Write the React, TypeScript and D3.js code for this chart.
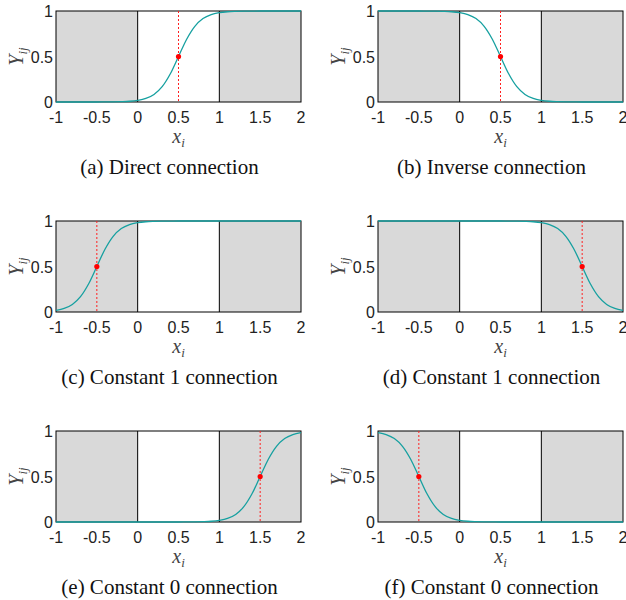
import React from "react";
import * as d3 from "d3";

// panel setup
const captions = [
  "(a) Direct connection",
  "(b) Inverse connection",
  "(c) Constant 1 connection",
  "(d) Constant 1 connection",
  "(e) Constant 0 connection",
  "(f) Constant 0 connection",
];
const centers = [0.5, 0.5, -0.5, 1.5, 1.5, -0.5];
const rising = [true, false, true, false, true, false];

// half of the S-shaped curve: distance from the midpoint -> value
const offsets = [0, 0.1, 0.2, 0.3, 0.4, 0.5, 0.6, 0.7, 0.8, 0.9, 1.0, 1.5, 2.5];
const riseValues = [0.5, 0.69, 0.832, 0.917, 0.961, 0.982, 0.992, 0.996, 0.998, 0.999, 1.0, 1.0, 1.0];

const xTicks = [-1, -0.5, 0, 0.5, 1, 1.5, 2];
const yTicks = [0, 0.5, 1];
const shaded = [
  [-1, 0],
  [1, 2],
];
const dividers = [0, 1];

const colLeft = [56, 378];
const rowTop = [11, 221, 431];
const plotW = 245;
const plotH = 91;

const TEAL = "#16a0a0";
const GRAY = "#d9d9d9";
const SANS = "Liberation Sans, Arial, sans-serif";
const SERIF = "Liberation Serif, Times New Roman, serif";

function Panel({ idx }: { idx: number }) {
  const left = colLeft[idx % 2];
  const top = rowTop[Math.floor(idx / 2)];
  const x = d3.scaleLinear().domain([-1, 2]).range([left, left + plotW]);
  const y = d3.scaleLinear().domain([0, 1]).range([top + plotH, top]);

  const c = centers[idx];
  const pts: [number, number][] = [];
  for (let i = offsets.length - 1; i > 0; i--) pts.push([c - offsets[i], 1 - riseValues[i]]);
  for (let i = 0; i < offsets.length; i++) pts.push([c + offsets[i], riseValues[i]]);
  const data = rising[idx] ? pts : pts.map(([a, b]) => [a, 1 - b] as [number, number]);

  const line = d3
    .line<[number, number]>()
    .x((d) => x(d[0]))
    .y((d) => y(d[1]))
    .curve(d3.curveMonotoneX);

  const clipId = `clip${idx}`;
  const capX = (left + left + plotW) / 2 - 9;

  return (
    <g>
      <clipPath id={clipId}>
        <rect x={left} y={top - 1} width={plotW} height={plotH + 2} />
      </clipPath>
      <rect x={left} y={top} width={plotW} height={plotH} fill="white" />
      {shaded.map(([a, b], i) => (
        <rect key={i} x={x(a)} y={top} width={x(b) - x(a)} height={plotH} fill={GRAY} />
      ))}
      {dividers.map((v) => (
        <line key={v} x1={x(v)} x2={x(v)} y1={top} y2={top + plotH} stroke="black" strokeWidth={1} />
      ))}
      <rect x={left} y={top} width={plotW} height={plotH} fill="none" stroke="black" strokeWidth={1} />
      <line
        x1={x(c)}
        x2={x(c)}
        y1={top}
        y2={top + plotH}
        stroke="#ff2020"
        strokeWidth={1}
        strokeDasharray="2,2"
      />
      <path d={line(data) || ""} fill="none" stroke={TEAL} strokeWidth={1.3} clipPath={`url(#${clipId})`} />
      <circle cx={x(c)} cy={y(0.5)} r={2.6} fill="#ff0000" />
      {xTicks.map((t) => (
        <text key={t} x={x(t)} y={top + plotH + 21} textAnchor="middle" fontFamily={SANS} fontSize={16} fill="#222">
          {t}
        </text>
      ))}
      {yTicks.map((t) => (
        <text key={t} x={left - 3} y={y(t) + 6} textAnchor="end" fontFamily={SANS} fontSize={16} fill="#222">
          {t}
        </text>
      ))}
      <text
        x={left + plotW / 2}
        y={top + plotH + 41}
        textAnchor="middle"
        fontFamily={SERIF}
        fontStyle="italic"
        fontSize={20}
        fill="#444"
      >
        x<tspan fontSize={13} dy={4}>i</tspan>
      </text>
      <text
        transform={`translate(${left - 33},${top + plotH / 2}) rotate(-90)`}
        textAnchor="middle"
        fontFamily={SERIF}
        fontStyle="italic"
        fontSize={20}
        fill="#444"
      >
        Y<tspan fontSize={13} dy={4}>ij</tspan>
      </text>
      <text x={capX} y={top + plotH + 72} textAnchor="middle" fontFamily={SERIF} fontSize={21} fill="#111">
        {captions[idx]}
      </text>
    </g>
  );
}

export default function App() {
  return (
    <svg
      width={626}
      height={600}
      style={{ position: "absolute", left: 0, top: 0, background: "white", overflow: "hidden" }}
    >
      <rect width={626} height={600} fill="white" />
      {captions.map((_, i) => (
        <Panel key={i} idx={i} />
      ))}
    </svg>
  );
}
